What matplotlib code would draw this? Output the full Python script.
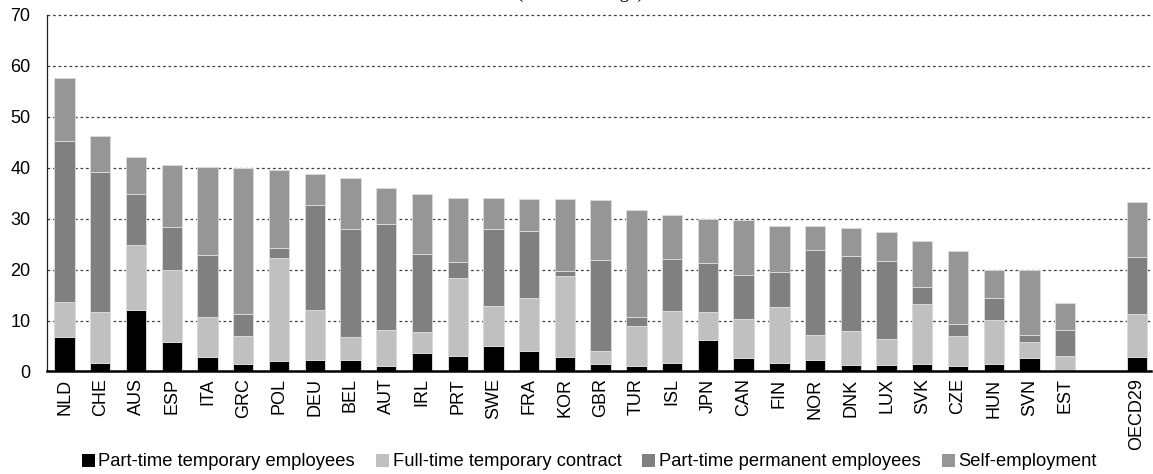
import matplotlib
matplotlib.use('Agg')
import matplotlib.pyplot as plt
import numpy as np
from matplotlib.patches import Patch

plt.rcParams['font.family'] = ['Liberation Sans', 'DejaVu Sans']

countries = ['NLD', 'CHE', 'AUS', 'ESP', 'ITA', 'GRC', 'POL', 'DEU', 'BEL', 'AUT',
             'IRL', 'PRT', 'SWE', 'FRA', 'KOR', 'GBR', 'TUR', 'ISL', 'JPN', 'CAN',
             'FIN', 'NOR', 'DNK', 'LUX', 'SVK', 'CZE', 'HUN', 'SVN', 'EST', 'OECD29']

cum_black = [6.75, 1.7, 12.05, 5.8, 2.8, 1.45, 2.1, 2.3, 2.2, 1.05,
             3.6, 3.1, 5.1, 4.1, 2.9, 1.4, 1.0, 1.6, 6.2, 2.7,
             1.6, 2.2, 1.25, 1.25, 1.45, 1.0, 1.4, 2.7, 0.26, 2.9]
cum_light = [13.6, 11.6, 24.8, 20.0, 10.7, 7.0, 22.2, 12.05, 6.7, 8.2,
             7.7, 18.3, 12.9, 14.35, 18.8, 4.0, 8.9, 11.9, 11.6, 10.4,
             12.6, 7.1, 8.0, 6.35, 13.2, 6.95, 10.1, 5.8, 3.0, 11.35]
cum_dark = [45.3, 39.1, 34.9, 28.4, 22.9, 11.3, 24.2, 32.7, 27.9, 29.0,
            23.1, 21.4, 28.0, 27.6, 19.7, 21.8, 10.6, 22.1, 21.3, 19.0,
            19.5, 23.9, 22.7, 21.7, 16.5, 9.3, 14.35, 7.1, 8.2, 22.5]
totals = [57.6, 46.3, 42.1, 40.5, 40.2, 40.0, 39.5, 38.7, 37.9, 36.0,
          34.9, 34.1, 34.1, 33.9, 33.8, 33.6, 31.8, 30.7, 29.9, 29.75,
          28.6, 28.5, 28.25, 27.3, 25.6, 23.65, 20.0, 19.9, 13.4, 33.2]

pt_temp = np.array(cum_black)
ft_temp = np.array(cum_light) - np.array(cum_black)
pt_perm = np.array(cum_dark) - np.array(cum_light)
self_emp = np.array(totals) - np.array(cum_dark)

series = [
    ('Part-time temporary employees', pt_temp, '#000000'),
    ('Full-time temporary contract', ft_temp, '#c0c0c0'),
    ('Part-time permanent employees', pt_perm, '#808080'),
    ('Self-employment', self_emp, '#969696'),
]

# one empty slot before the OECD average
x = np.arange(len(countries), dtype=float)
x[-1] += 1

fig = plt.figure(figsize=(11.53, 4.74), dpi=100)
ax = fig.add_axes([0.0408, 0.2163, 0.9575, 0.7521])

bottom = np.zeros(len(countries))
for name, vals, color in series:
    ax.bar(x, vals, width=0.57, bottom=bottom, color=color,
           edgecolor='#d9d9d9', linewidth=0.7, zorder=3)
    bottom += vals

ax.set_ylim(0, 70)
ax.set_xlim(-0.49, 30.4)
ax.set_yticks(range(0, 80, 10))
ax.set_xticks(x)
ax.set_xticklabels(countries, rotation=90)
ax.tick_params(axis='both', length=0, labelsize=13)
ax.tick_params(axis='y', pad=12)
ax.tick_params(axis='x', pad=5)

for y in range(10, 80, 10):
    ax.axhline(y, color='#404040', linewidth=0.9, linestyle=(0, (2.2, 2.2)),
               zorder=1, clip_on=False)

for side in ['top', 'right']:
    ax.spines[side].set_visible(False)
ax.spines['left'].set_color('#222222')
ax.spines['left'].set_linewidth(0.9)
ax.spines['bottom'].set_linewidth(1.8)
ax.spines['bottom'].set_zorder(4)

handles = [Patch(facecolor=c, edgecolor='none', label=n) for n, _, c in series]
fig.legend(handles=handles, loc='center', bbox_to_anchor=(0.511, 1 - 462 / 474),
           ncol=4, frameon=False, fontsize=13.2, handlelength=0.7, handleheight=0.7,
           handletextpad=0.2, columnspacing=1.15)

# subtitle cut off by the top edge in the original
fig.text(0.503, 1 - 1.5 / 474, '(OECD average)', ha='center', va='bottom',
         family=['Liberation Serif', 'DejaVu Serif'], fontsize=13.5)

fig.savefig('out.png', dpi=100)
